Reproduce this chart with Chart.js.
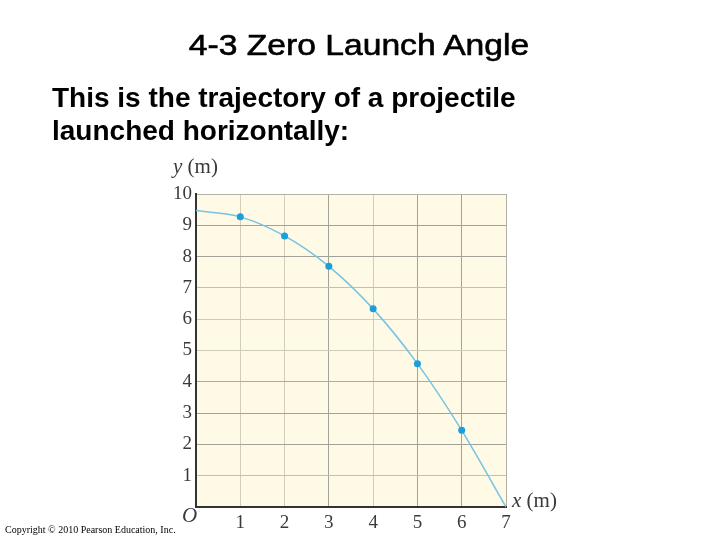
<!DOCTYPE html>
<html lang="en">
<head>
  <meta charset="UTF-8">
  <title>4-3 Zero Launch Angle</title>
  <script src="https://cdn.jsdelivr.net/npm/chart.js"></script>
  <style>
    html, body { margin: 0; padding: 0; background: #fff; }
    #page { position: relative; width: 720px; height: 540px; overflow: hidden; }
    #traj { position: absolute; left: 0; top: 0; }
    .txt { position: absolute; white-space: nowrap; color: #000; }
    #title { left: 359px; top: 31px; font: 29px/29px "Liberation Sans", Arial, sans-serif;
             -webkit-text-stroke: 0.6px #000;
             transform: translateX(-50%) scaleX(1.16); }
    #sub { left: 52px; top: 81px; font: bold 28px/33.4px "Liberation Sans", Arial, sans-serif; }
    .serif { font: 21px/21px "Liberation Serif", "Times New Roman", serif; color: #3a3a3a; }
    #copy { left: 5px; top: 525px; font: 10px/10px "Liberation Serif", "Times New Roman", serif; }
  </style>
</head>
<body>
<div id="page">
  <canvas id="traj" width="720" height="540"></canvas>
  <div class="txt" id="title">4-3 Zero Launch Angle</div>
  <div class="txt" id="sub">This is the trajectory of a projectile<br>launched horizontally:</div>
  <div class="txt serif" style="left:173px; top:156px;"><i>y</i> (m)</div>
  <div class="txt serif" style="left:512px; top:490px;"><i>x</i> (m)</div>
  <div class="txt serif" style="left:182px; top:505px;"><i>O</i></div>
  <div class="txt" id="copy">Copyright © 2010 Pearson Education, Inc.</div>
</div>

<script>
// trajectory (x in m, y in m)
var curveX = [0, 1, 2, 3, 4, 5, 6, 7];
var curveY = [9.47, 9.27, 8.66, 7.69, 6.33, 4.58, 2.45, 0];

// marked positions
var dotX = [1, 2, 3, 4, 5, 6];
var dotY = [9.27, 8.66, 7.69, 6.33, 4.58, 2.45];

// gridline shades (scan shows uneven lines)
var gridXColors = ['#555555', '#d2cebb', '#d2cebb', '#a3a198', '#d2cebb', '#a3a198', '#a3a198', '#b3b1a6'];
var gridYColors = ['#555555', '#c2c0b2', '#a3a198', '#a3a198', '#aeaca0', '#cecbb9', '#cecbb9', '#c2c0b2', '#a3a198', '#a3a198', '#b3b1a6'];

function toPoints(xs, ys) {
  return xs.map(function (x, i) { return { x: x, y: ys[i] }; });
}

var plotBg = {
  id: 'plotBg',
  beforeDraw: function (chart) {
    var a = chart.chartArea, c = chart.ctx;
    c.save();
    c.fillStyle = '#fefae6';
    c.fillRect(a.left, a.top, a.right - a.left, a.bottom - a.top);
    c.restore();
  }
};

var tickFont = { family: '"Liberation Serif", "Times New Roman", serif', size: 19 };

new Chart(document.getElementById('traj').getContext('2d'), {
  type: 'scatter',
  data: {
    datasets: [{
      data: toPoints(dotX, dotY),
      pointRadius: 3.5,
      pointBackgroundColor: '#1a9fdb',
      pointBorderWidth: 0,
      showLine: false
    }, {
      data: toPoints(curveX, curveY),
      showLine: true,
      pointRadius: 0,
      borderColor: '#78c2e2',
      borderWidth: 1.5,
      cubicInterpolationMode: 'monotone'
    }]
  },
  options: {
    responsive: false,
    animation: false,
    layout: { padding: { left: 0, top: 194, right: 214, bottom: 0 } },
    plugins: { legend: { display: false }, tooltip: { enabled: false } },
    scales: {
      x: {
        type: 'linear', min: 0, max: 7,
        afterFit: function (s) { s.height = 33; },
        ticks: {
          stepSize: 1, padding: 5, color: '#3a3a3a', font: tickFont,
          callback: function (v) { return v === 0 ? '' : v; }
        },
        grid: {
          drawTicks: false,
          color: function (c) { return gridXColors[c.index] || '#b3b1a6'; },
          lineWidth: 1
        },
        border: { color: '#333333', width: 2 }
      },
      y: {
        type: 'linear', min: 0, max: 10,
        afterFit: function (s) { s.width = 196; },
        ticks: {
          stepSize: 1, padding: 4, color: '#3a3a3a', font: tickFont,
          callback: function (v) { return v === 0 ? '' : v; }
        },
        grid: {
          drawTicks: false,
          color: function (c) { return gridYColors[c.index] || '#b3b1a6'; },
          lineWidth: 1
        },
        border: { color: '#333333', width: 2 }
      }
    }
  },
  plugins: [plotBg]
});
</script>
</body>
</html>
